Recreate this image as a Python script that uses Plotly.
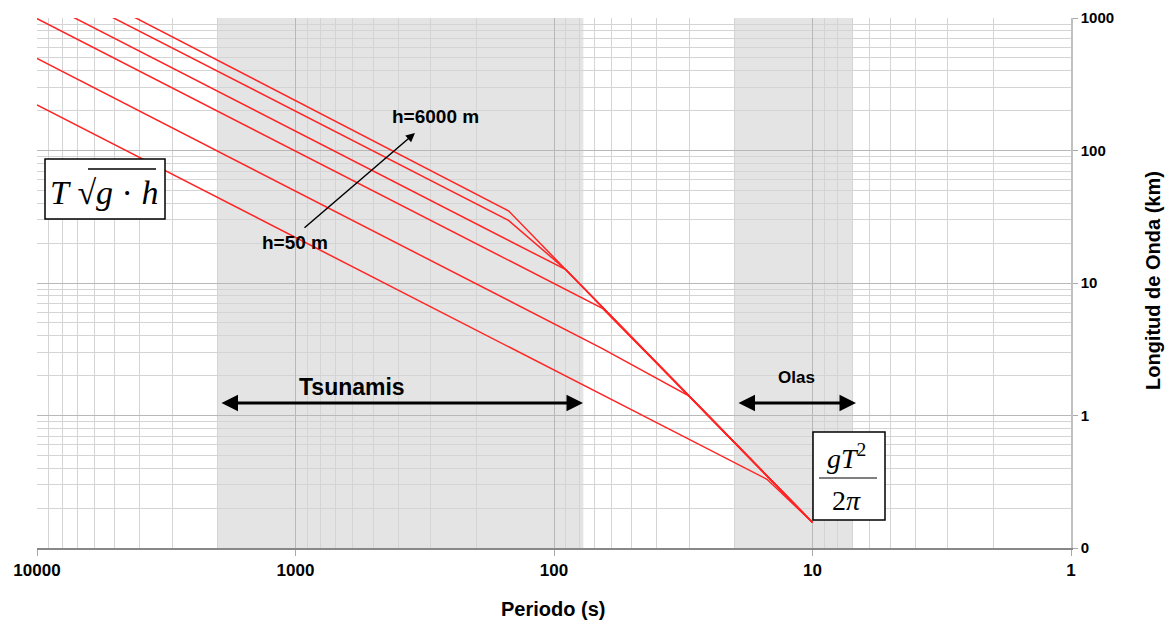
import plotly.graph_objects as go

# ---- data ----
periodo = [10000, 150, 90, 65, 30, 15, 10]          # s
L_h50   = [221, 3.3, 2.0, 1.44, 0.66, 0.33, 0.156]   # km
L_h250  = [495, 7.4, 4.45, 3.2, 1.40, 0.35, 0.156]
L_h1000 = [990, 14.9, 8.9, 6.44, 1.40, 0.35, 0.156]
L_h2000 = [1400, 21.0, 12.6, 6.6, 1.40, 0.35, 0.156]
L_h4000 = [1980, 29.7, 12.6, 6.6, 1.40, 0.35, 0.156]
L_h6000 = [2430, 35.1, 12.6, 6.6, 1.40, 0.35, 0.156]
series = [L_h50, L_h250, L_h1000, L_h2000, L_h4000, L_h6000]
depth_names = ["h=50 m", "h=250 m", "h=1000 m", "h=2000 m", "h=4000 m", "h=6000 m"]

tsunami_band = [2000, 77]
olas_band = [20, 7]

x_ticks = [10000, 1000, 100, 10, 1]
x_ticktext = ["10000", "1000", "100", "10", "1"]
y_ticks = [0.1, 1, 10, 100, 1000]
y_ticktext = ["0", "1", "10", "100", "1000"]

W, H = 1175, 626
L, R, T, B = 37, 104, 18, 78
PW, PH = W - L - R, H - T - B

def px(x):
    return (x - L) / PW

def py(y):
    return (H - B - y) / PH

FONT = "Liberation Sans, Arial, sans-serif"
SERIF = "Liberation Serif, Times New Roman, serif"

fig = go.Figure()
for name, vals in zip(depth_names, series):
    fig.add_trace(go.Scatter(x=periodo, y=vals, mode="lines", name=name,
                             line=dict(color="#ff2424", width=1.5),
                             showlegend=False, hoverinfo="skip"))

minor_x = [m * 10 ** e for e in range(0, 4) for m in range(2, 10)]
minor_y = [m * 10 ** e for e in range(-1, 3) for m in range(2, 10)]

shapes = []
for a, b in (tsunami_band, olas_band):
    shapes.append(dict(type="rect", xref="x", yref="paper", x0=a, x1=b, y0=0, y1=1,
                       fillcolor="#e4e4e4", line=dict(width=0), layer="below"))

# formula boxes
shapes.append(dict(type="rect", xref="paper", yref="paper", x0=px(45), x1=px(165),
                   y0=py(219), y1=py(159), line=dict(color="black", width=1.5),
                   fillcolor="white", layer="above"))
shapes.append(dict(type="line", xref="paper", yref="paper", x0=px(88), x1=px(156),
                   y0=py(169), y1=py(169), line=dict(color="black", width=1.3)))
shapes.append(dict(type="rect", xref="paper", yref="paper", x0=px(813), x1=px(885),
                   y0=py(520), y1=py(432), line=dict(color="black", width=1.5),
                   fillcolor="white", layer="above"))
shapes.append(dict(type="line", xref="paper", yref="paper", x0=px(819), x1=px(877),
                   y0=py(478), y1=py(478), line=dict(color="black", width=1.2)))

def txt(x, y, text, size, family=FONT, angle=0):
    return dict(xref="paper", yref="paper", x=px(x), y=py(y), text=text,
                xanchor="center", yanchor="middle", showarrow=False, textangle=angle,
                font=dict(family=family, size=size, color="black"))

annotations = [
    txt(104, 192, "<i>T</i> √<i>g</i> · <i>h</i>", 34, SERIF),
    txt(846, 456, "<i>gT</i><sup>2</sup>", 28, SERIF),
    txt(846, 500, "2<i>π</i>", 28, SERIF),
    txt(352, 387, "<b>Tsunamis</b>", 23),
    txt(796, 377, "<b>Olas</b>", 17),
    txt(435, 117, "<b>h=6000 m</b>", 19),
    txt(295, 242, "<b>h=50 m</b>", 19),
    # axis titles
    txt(553, 609, "<b>Periodo (s)</b>", 20),
    txt(1153, 281, "<b>Longitud de Onda (km)</b>", 20, angle=-90),
    # arrow h=50 -> h=6000
    dict(xref="paper", yref="paper", x=px(415), y=py(133), ax=-112, ay=96, text="",
         showarrow=True, arrowhead=2, arrowsize=1.2, arrowwidth=1.5, arrowcolor="black",
         standoff=0, startstandoff=0),
    # double arrows
    dict(xref="paper", yref="paper", x=px(583), y=py(403), ax=-363, ay=0, text="",
         showarrow=True, arrowhead=2, startarrowhead=2, arrowside="end+start",
         arrowsize=1.1, startarrowsize=1.1, arrowwidth=3, arrowcolor="black",
         standoff=0, startstandoff=0),
    dict(xref="paper", yref="paper", x=px(856), y=py(403), ax=-119, ay=0, text="",
         showarrow=True, arrowhead=2, startarrowhead=2, arrowside="end+start",
         arrowsize=1.1, startarrowsize=1.1, arrowwidth=3, arrowcolor="black",
         standoff=0, startstandoff=0),
]

fig.update_layout(
    width=W, height=H, margin=dict(l=L, r=R, t=T, b=B, pad=0, autoexpand=False),
    paper_bgcolor="white", plot_bgcolor="white",
    shapes=shapes, annotations=annotations,
    xaxis=dict(type="log", range=[4, 0], tickmode="array", tickvals=x_ticks,
               ticktext=["<b>%s</b>" % t for t in x_ticktext],
               showgrid=True, gridcolor="#b8b8b8", gridwidth=1,
               minor=dict(tickmode="array", tickvals=minor_x, showgrid=True,
                          gridcolor="#d4d4d4", gridwidth=1, ticks=""),
               showline=True, linecolor="#888888", linewidth=1.5,
               ticks="outside", ticklen=6, tickcolor="#aaaaaa",
               tickfont=dict(family=FONT, size=17, color="black"),
               automargin=False, zeroline=False),
    yaxis=dict(type="log", range=[-1, 3], side="right", tickmode="array", tickvals=y_ticks,
               ticktext=["<b>%s</b>" % t for t in y_ticktext],
               showgrid=True, gridcolor="#b8b8b8", gridwidth=1,
               minor=dict(tickmode="array", tickvals=minor_y, showgrid=True,
                          gridcolor="#d4d4d4", gridwidth=1, ticks=""),
               showline=True, linecolor="#c0c0c0", linewidth=1.5,
               ticks="outside", ticklen=5, tickcolor="#aaaaaa",
               tickfont=dict(family=FONT, size=15, color="black"),
               automargin=False, zeroline=False),
)

fig.write_html("out.html")
